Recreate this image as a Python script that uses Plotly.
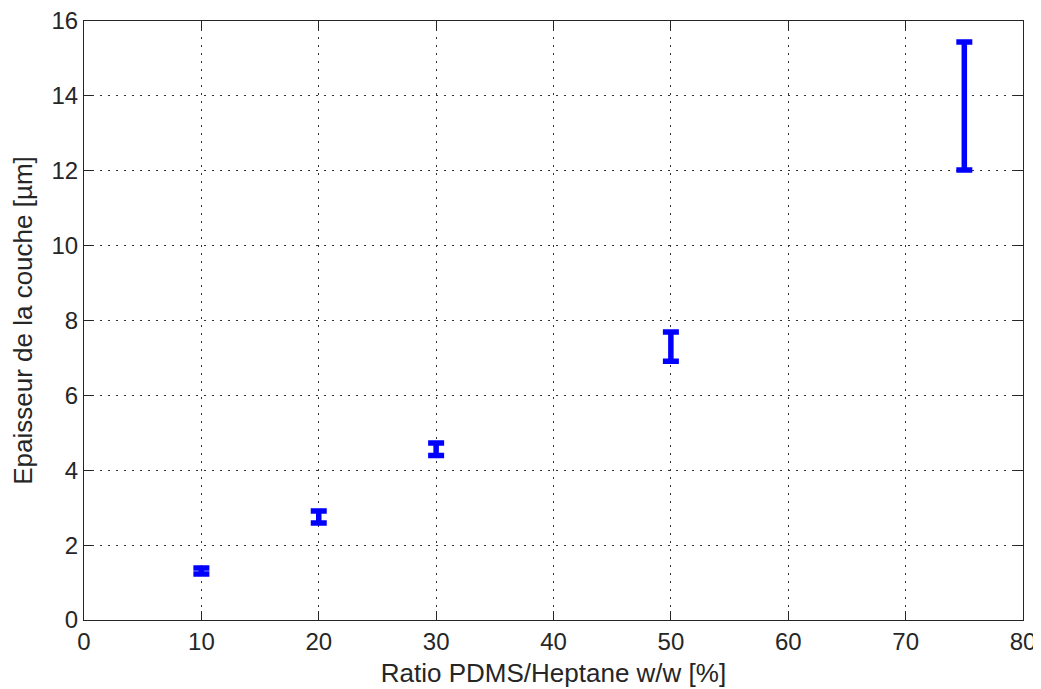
import plotly.graph_objects as go

# Données
ratio = [10, 20, 30, 50, 75]
epaisseur = [1.31, 2.75, 4.56, 7.30, 13.73]
erreur = [0.08, 0.16, 0.165, 0.39, 1.71]

x_ticks = [0, 10, 20, 30, 40, 50, 60, 70, 80]
y_ticks = [0, 2, 4, 6, 8, 10, 12, 14, 16]

fig = go.Figure(go.Scatter(
    x=ratio,
    y=epaisseur,
    mode="markers",
    marker=dict(size=1, color="#0000FF"),
    error_y=dict(type="data", array=erreur, visible=True,
                 color="#0000FF", thickness=5.5, width=8),
    showlegend=False,
))

axis_style = dict(
    showline=True, mirror="allticks", linecolor="#262626", linewidth=1,
    ticks="inside", ticklen=9, tickcolor="#262626",
    showgrid=True, gridcolor="#333333", gridwidth=1, griddash="2px,6px",
    zeroline=False, automargin=False, ticklabeloverflow="allow",
    tickfont=dict(family="Liberation Sans, Arial", size=24, color="#262626"),
)

fig.update_xaxes(range=[0, 80], tickvals=x_ticks,
                 title=dict(text="Ratio PDMS/Heptane w/w [%]", standoff=10,
                            font=dict(family="Liberation Sans, Arial", size=26, color="#262626")),
                 **axis_style)
fig.update_yaxes(range=[0, 16], tickvals=y_ticks,
                 title=dict(text="Epaisseur de la couche [µm]", standoff=12,
                            font=dict(family="Liberation Sans, Arial", size=26, color="#262626")),
                 **axis_style)

# la page ajoute une marge de 8 px autour de la figure
fig.update_layout(
    width=1033, height=681,
    margin=dict(l=76, r=18, t=13, b=69),
    plot_bgcolor="white", paper_bgcolor="white",
)

fig.write_html("out.html")
